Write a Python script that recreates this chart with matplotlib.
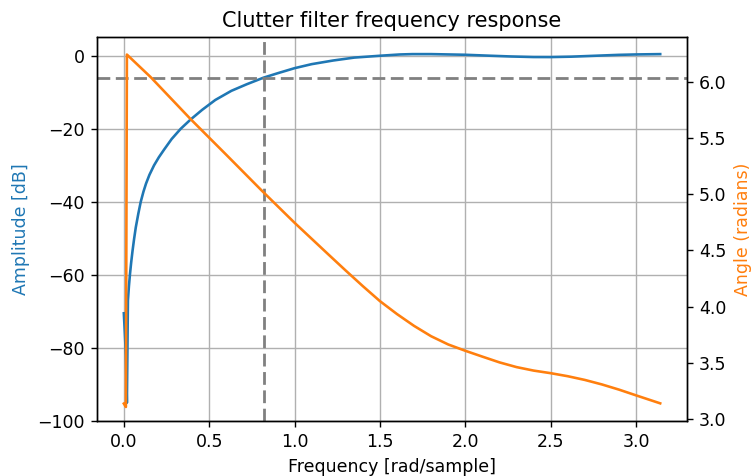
import matplotlib
matplotlib.use('Agg')
import numpy as np
import matplotlib.pyplot as plt

# the reference looks like a default figure scaled up by about 1.25
s = 1.25
plt.rcParams.update({
    'font.size': 10 * s,
    'lines.linewidth': 1.5 * s,
    'axes.linewidth': 0.8 * s,
    'grid.linewidth': 0.8 * s,
    'xtick.major.size': 3.5 * s,
    'ytick.major.size': 3.5 * s,
    'xtick.major.width': 0.8 * s,
    'ytick.major.width': 0.8 * s,
    'xtick.major.pad': 3.5 * s,
    'ytick.major.pad': 3.5 * s,
    'axes.labelpad': 4.0 * s,
    'axes.titlepad': 6.0 * s,
})

# amplitude response (rad/sample, dB)
w_amp = [0.0, 0.006, 0.012, 0.018, 0.024, 0.030, 0.036, 0.043, 0.051, 0.060,
         0.070, 0.085, 0.099, 0.115, 0.130, 0.150, 0.177, 0.205, 0.235, 0.28,
         0.333, 0.39, 0.459, 0.536, 0.63, 0.72, 0.818, 0.9, 1.0, 1.1,
         1.226, 1.35, 1.5, 1.615, 1.69, 1.8, 2.0, 2.15, 2.27, 2.4,
         2.5, 2.62, 2.76, 2.9, 3.0, 3.1416]
amp_db = [-70.5, -76, -82, -95, -67, -63, -59.8, -56.6, -53.4, -50.2,
          -47.0, -43.2, -40.0, -37.2, -35.0, -32.6, -30.0, -27.8, -25.75, -22.8,
          -20.0, -17.5, -14.8, -12.1, -9.6, -7.8, -6.0, -4.8, -3.4, -2.3,
          -1.3, -0.5, 0.0, 0.35, 0.45, 0.45, 0.27, 0.0, -0.2, -0.35,
          -0.36, -0.25, 0.0, 0.25, 0.36, 0.45]

# unwrapped phase (radians)
w_ang = [0.0, 0.012, 0.018, 0.157, 0.391, 0.6, 0.809, 1.0, 1.1, 1.2,
         1.3, 1.4, 1.5, 1.6, 1.7, 1.8, 1.9, 2.0, 2.1, 2.2,
         2.3, 2.4, 2.5, 2.6, 2.7, 2.8, 2.9, 3.0, 3.1416]
angle = [3.14, 3.11, 6.24, 6.04, 5.667, 5.35, 5.03, 4.746, 4.604, 4.462,
         4.321, 4.183, 4.05, 3.935, 3.83, 3.738, 3.665, 3.609, 3.557, 3.506,
         3.464, 3.433, 3.41, 3.383, 3.35, 3.31, 3.264, 3.213, 3.142]

cutoff_db = -6
cutoff_w = 0.82

fig, ax1 = plt.subplots(figsize=(7.52, 4.76), dpi=100)
fig.subplots_adjust(left=0.129, right=0.9136, top=0.922, bottom=0.1155)

ax1.set_title('Clutter filter frequency response')
ax1.plot(w_amp, amp_db, color='C0')
ax1.set_ylabel('Amplitude [dB]', color='C0')
ax1.set_xlabel('Frequency [rad/sample]')
ax1.set_ylim(-100, 5.1)
ax1.grid(True)
ax1.axhline(cutoff_db, color='gray', lw=2, dashes=(4.6, 2.0))
ax1.axvline(cutoff_w, color='gray', lw=2, dashes=(4.6, 2.0))

ax2 = ax1.twinx()
ax2.plot(w_ang, angle, color='C1')
ax2.set_ylabel('Angle (radians)', color='C1')
ax2.set_ylim(2.985, 6.395)

plt.savefig('out.png')
